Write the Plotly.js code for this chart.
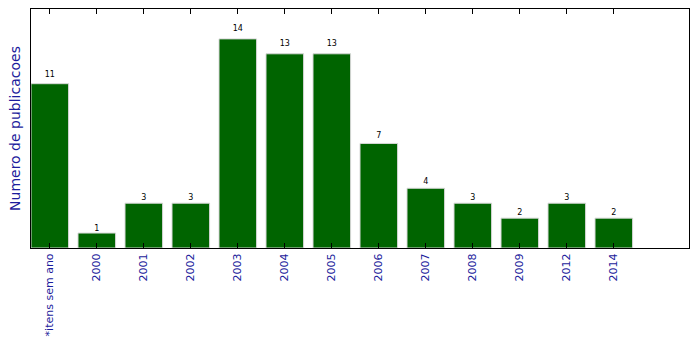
<!DOCTYPE html>
<html><head><meta charset="utf-8">
<script src="https://cdn.plot.ly/plotly-3.0.1.min.js"></script>
<style>body{margin:0;background:#fff}#c{width:699px;height:348px}</style>
</head><body><div id="c"></div>
<script>
const categories = ["*itens sem ano","2000","2001","2002","2003","2004","2005","2006","2007","2008","2009","2012","2014"];
const counts = [11,1,3,3,14,13,13,7,4,3,2,3,2];
const idx = categories.map((_, i) => i);

const bars = {
  type: 'bar', x: idx, y: counts, width: 0.8,
  marker: {color: '#006400', line: {color: '#d8d8d8', width: 1}},
  hoverinfo: 'none'
};
const labels = {
  type: 'scatter', mode: 'text', x: idx, y: counts.map(v => v * 1.03),
  text: counts.map(String), textposition: 'top center', cliponaxis: false,
  textfont: {family: 'DejaVu Sans', size: 8, color: '#000'},
  hoverinfo: 'none'
};
const layout = {
  width: 699, height: 348,
  margin: {l: 31, r: 10, t: 9, b: 100},
  paper_bgcolor: '#fff', plot_bgcolor: '#fff',
  showlegend: false, bargap: 0,
  xaxis: {
    range: [-0.4, 13.6], tickmode: 'array', tickvals: idx, ticktext: categories,
    tickangle: -90, ticks: 'inside', ticklen: 5, tickcolor: '#000', mirror: 'ticks',
    showline: true, linecolor: '#000', linewidth: 1, showgrid: false, zeroline: false,
    tickfont: {family: 'DejaVu Sans', size: 11, color: '#1c1c9c'}
  },
  yaxis: {
    range: [0, 16], showticklabels: false, ticks: '', showgrid: false, zeroline: false,
    showline: true, linecolor: '#000', linewidth: 1, mirror: true,
    title: {text: 'Numero de publicacoes', font: {family: 'DejaVu Sans', size: 14, color: '#1c1c9c'}, standoff: 6}
  }
};
Plotly.newPlot('c', [bars, labels], layout, {staticPlot: true});
</script></body></html>
